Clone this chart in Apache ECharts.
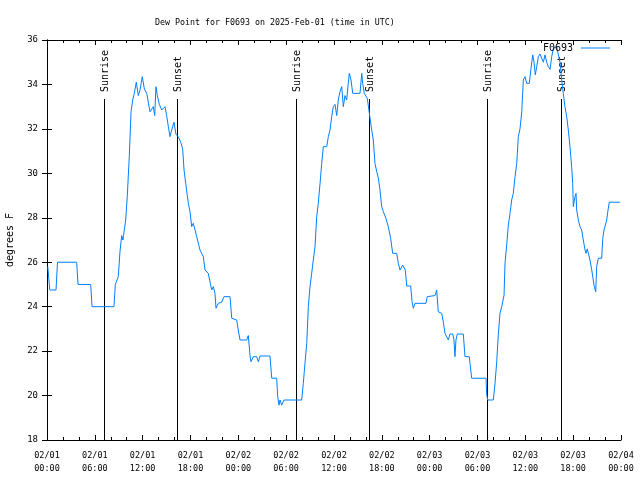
<!DOCTYPE html>
<html>
<head>
<meta charset="utf-8">
<script src="https://cdn.jsdelivr.net/npm/echarts@6/dist/echarts.min.js"></script>
<style>html,body{margin:0;padding:0;background:#fff;}#c{width:640px;height:480px;}</style>
</head>
<body>
<div id="c"></div>
<script>
// hours since 2025-02-01 00:00 UTC
const hours = [0.1,0.35,1.13,1.32,3.72,3.89,5.48,5.65,8.40,8.57,8.94,9.16,9.37,9.53,9.6,9.87,10.07,10.32,10.54,10.75,10.95,11.20,11.45,11.67,11.95,12.21,12.51,12.71,12.92,13.33,13.51,13.67,13.84,14.09,14.39,14.80,15.01,15.22,15.43,15.64,15.93,16.18,16.47,16.77,17.02,17.19,17.40,17.60,17.73,17.94,18.15,18.35,18.57,18.78,19.19,19.44,19.61,19.82,20.23,20.66,20.86,21.07,21.20,21.49,21.91,22.20,22.96,23.17,23.79,23.99,24.21,25.05,25.25,25.46,25.59,25.88,26.30,26.51,26.72,27.97,28.19,28.81,28.94,29.10,29.23,29.44,29.73,31.95,32.15,32.36,32.58,32.78,32.99,33.20,33.40,33.62,33.83,34.03,34.25,34.46,34.66,35.09,35.29,35.50,35.71,35.91,36.13,36.34,36.54,36.75,36.97,37.17,37.38,37.59,37.79,37.92,38.13,38.35,39.26,39.48,39.60,39.80,40.01,40.18,40.43,40.52,40.73,40.93,41.14,41.36,41.56,41.77,41.98,42.19,42.52,42.81,43.11,43.36,43.86,44.07,44.28,44.62,44.78,44.95,45.12,45.62,45.79,45.95,46.16,47.54,47.70,48.67,48.88,49.08,49.51,49.71,49.92,50.13,50.34,50.55,50.89,51.05,51.17,51.30,51.47,52.22,52.43,52.97,53.06,53.27,55.07,55.16,55.28,55.98,56.20,56.41,56.61,56.82,57.04,57.24,57.33,57.45,57.66,57.87,58.08,58.29,58.49,58.71,58.92,59.12,59.33,59.55,59.75,59.96,60.17,60.50,60.71,60.93,61.09,61.25,61.43,61.63,61.84,62.05,62.26,62.47,62.68,62.88,63.10,63.31,63.51,63.72,63.93,64.14,64.35,64.56,64.76,64.97,65.19,65.39,65.60,65.81,65.94,66.02,66.23,66.36,66.44,66.65,66.86,67.07,67.27,67.49,67.61,67.77,68.02,68.11,68.33,68.53,68.65,68.83,68.95,69.16,69.58,69.71,69.87,70.12,70.21,70.34,70.53,71.88];
const dewF = [25.8,24.75,24.75,26.0,26.0,25.0,25.0,24.0,24.0,25.0,25.35,26.5,27.2,27.0,27.2,27.9,28.95,30.75,32.77,33.3,33.6,34.1,33.5,33.75,34.35,33.8,33.6,33.2,32.77,33.0,32.6,33.9,33.5,33.1,32.85,33.0,32.6,32.1,31.65,31.95,32.3,31.75,31.65,31.4,31.1,30.15,29.55,29.0,28.65,28.27,27.6,27.75,27.45,27.15,26.55,26.55,26.25,25.65,25.5,24.75,24.9,24.6,23.93,24.15,24.2,24.45,24.45,23.48,23.4,22.95,22.5,22.5,22.7,21.82,21.52,21.75,21.75,21.52,21.78,21.78,20.78,20.78,19.95,19.57,19.8,19.57,19.8,19.8,20.55,21.45,22.35,24.0,24.9,25.5,26.1,26.7,28.05,28.65,29.55,30.45,31.2,31.2,31.65,31.95,32.55,33.0,33.1,32.6,33.3,33.67,33.9,33.0,33.5,33.3,34.05,34.5,34.2,33.6,33.6,34.5,34.05,33.6,33.6,33.37,33.3,32.48,31.95,31.5,30.45,30.07,29.8,29.25,28.5,28.27,27.97,27.6,27.07,26.4,26.4,25.95,25.65,25.87,25.95,25.65,24.93,24.93,24.22,23.93,24.15,24.15,24.45,24.5,24.75,23.77,23.7,23.32,22.8,22.73,22.5,22.77,22.77,22.5,21.75,22.5,22.77,22.77,21.75,21.75,21.45,20.78,20.78,20.03,19.8,19.8,20.55,21.52,22.73,23.7,24.0,24.0,24.52,25.95,26.77,27.67,28.2,28.8,29.1,29.85,30.45,31.65,32.0,32.77,34.2,34.35,34.05,34.05,34.72,35.33,35.0,34.43,34.8,35.25,35.37,35.33,35.0,35.33,35.0,34.8,34.68,35.25,35.63,35.55,35.7,35.33,35.0,34.2,33.6,33.0,32.55,31.95,31.2,30.3,29.55,28.5,28.95,29.1,28.35,27.9,27.6,27.45,27.0,26.55,26.4,26.6,26.6,26.1,25.65,25.65,24.9,24.67,25.8,26.18,26.18,27.07,27.45,27.45,27.9,28.27,28.7,28.7];
const sunTimes = [7.2, 16.3, 31.2, 40.4, 55.2, 64.5];
const sunLabels = ['Sunrise','Sunset','Sunrise','Sunset','Sunrise','Sunset'];
const yMin = 18, yMax = 36, yStep = 2;
const xMin = 0, xMax = 72, xStep = 6;
const seriesName = 'F0693';
const titleText = 'Dew Point for F0693 on 2025-Feb-01 (time in UTC)';

const FONT = '"DejaVu Sans Mono", "Liberation Mono", monospace';
const pad = n => (n < 10 ? '0' : '') + n;
const xLabel = v => {
  const d = 1 + Math.floor(v / 24);
  const h = v % 24;
  return '02/' + pad(d) + '\n' + pad(h) + ':00';
};
const lineData = hours.map((h, i) => [h, dewF[i]]);

const chart = echarts.init(document.getElementById('c'), null, {renderer: 'canvas'});
const axisLine = {show: true, lineStyle: {color: '#000', width: 1}};
chart.setOption({
  animation: false,
  backgroundColor: '#fff',
  title: {text: titleText, left: 150, top: 14,
    textStyle: {fontFamily: FONT, fontSize: 8.3, fontWeight: 'normal', color: '#000'}},
  legend: {data: [{name: seriesName, icon: 'rect'}], right: 25, top: 38, align: 'right', itemWidth: 29, itemHeight: 1, itemGap: 0,
    textStyle: {fontFamily: FONT, fontSize: 10, color: '#000', padding: [0, 3, 0, 0]}},
  grid: {left: 47, right: 19, top: 40, bottom: 40, containLabel: false, outerBoundsMode: 'none'},
  xAxis: [
    {type: 'value', min: xMin, max: xMax, interval: xStep, position: 'bottom',
     axisLine: axisLine, splitLine: {show: false},
     axisTick: {inside: true, length: 5, lineStyle: {color: '#000'}},
     minorTick: {show: true, splitNumber: 3, length: 3, lineStyle: {color: '#000'}},
     axisLabel: {formatter: xLabel, fontFamily: FONT, fontSize: 8.5, color: '#000', margin: 9, lineHeight: 13}},
    {type: 'value', min: xMin, max: xMax, interval: xStep, position: 'top',
     axisLine: axisLine, splitLine: {show: false},
     axisTick: {inside: true, length: 5, lineStyle: {color: '#000'}},
     minorTick: {show: true, splitNumber: 3, length: 3, lineStyle: {color: '#000'}},
     axisLabel: {show: false}}
  ],
  yAxis: [
    {type: 'value', min: yMin, max: yMax, interval: yStep, position: 'left',
     name: 'degrees F', nameLocation: 'middle', nameGap: 32, nameRotate: 90,
     nameTextStyle: {fontFamily: FONT, fontSize: 10, color: '#000'},
     axisLine: axisLine, splitLine: {show: false},
     axisTick: {inside: true, length: 5, lineStyle: {color: '#000'}},
     axisLabel: {fontFamily: FONT, fontSize: 9, color: '#000', margin: 9}},
    {type: 'value', min: yMin, max: yMax, interval: yStep, position: 'right',
     axisLine: axisLine, splitLine: {show: false},
     axisTick: {inside: true, length: 5, lineStyle: {color: '#000'}},
     axisLabel: {show: false}}
  ],
  series: [
    {type: 'custom', name: 'sun', xAxisIndex: 0, yAxisIndex: 0,
     data: sunTimes.map(t => [t, yMin]),
     encode: {x: 0, y: 1},
     clip: false, z: 1,
     renderItem: function (params, api) {
       const cs = params.coordSys;
       const p = api.coord([api.value(0), yMin]);
       const x = Math.round(p[0]) + 0.5;
       return {type: 'group', children: [
         {type: 'line', shape: {x1: x, y1: cs.y + 59, x2: x, y2: cs.y + cs.height},
          style: {stroke: '#000', lineWidth: 1}},
         {type: 'text', x: x + 1, y: cs.y + 52, rotation: Math.PI / 2,
          style: {text: sunLabels[params.dataIndex], font: '10px ' + FONT,
                  textAlign: 'left', textVerticalAlign: 'middle', fill: '#000'}}
       ]};
     }},
    {type: 'line', name: seriesName, xAxisIndex: 0, yAxisIndex: 0, data: lineData,
     symbol: 'none', showSymbol: false, z: 3,
     lineStyle: {color: '#0080ff', width: 1}, itemStyle: {color: '#0080ff'}}
  ]
});
</script>
</body>
</html>
